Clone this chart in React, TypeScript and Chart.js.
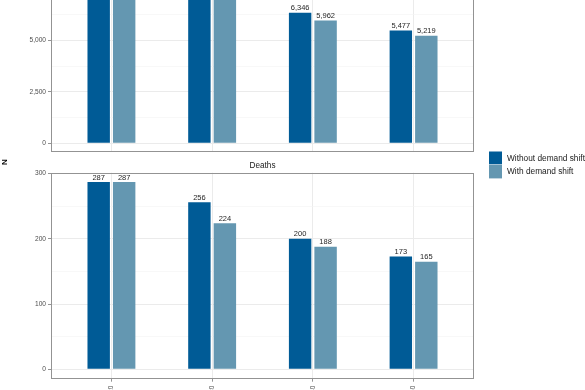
import React, { useEffect, useRef } from "react";
import { Chart, registerables } from "chart.js";

Chart.register(...registerables);

const categories = ["2020", "2030", "2040", "2050"];
const seriesNames = ["Without demand shift", "With demand shift"];
const seriesColors = ["#005b96", "#6497b1"];
const topWithout = [8700, 8100, 6346, 5477];
const topWith = [8700, 7600, 5962, 5219];
const deathsWithout = [287, 256, 200, 173];
const deathsWith = [287, 224, 188, 165];
const topTicks = [0, 1250, 2500, 3750, 5000, 6250, 7500, 8750];
const topMajor = [0, 2500, 5000, 7500];
const deathTicks = [0, 50, 100, 150, 200, 250, 300];
const deathMajor = [0, 100, 200, 300];
const deathsTitle = "Deaths";
const yAxisTitle = "N";

const FONT = "'Liberation Sans', Arial, Helvetica, sans-serif";
const fmt = (v: number) => v.toLocaleString("en-US");

const barLabelPlugin = {
  id: "barLabels",
  afterDatasetsDraw(chart: any) {
    const ctx = chart.ctx;
    ctx.save();
    ctx.font = `7.5px ${FONT}`;
    ctx.fillStyle = "#262626";
    ctx.textAlign = "center";
    ctx.textBaseline = "alphabetic";
    chart.data.datasets.forEach((ds: any, di: number) => {
      const meta = chart.getDatasetMeta(di);
      meta.data.forEach((el: any, i: number) => {
        const v = ds.data[i].y;
        ctx.fillText(fmt(v), el.x, el.y - 2.5);
      });
    });
    ctx.restore();
  },
};

const panelPlugin = {
  id: "panelDecor",
  afterDraw(chart: any, _args: any, opts: any) {
    const ctx = chart.ctx;
    const a = chart.chartArea;
    ctx.save();
    ctx.strokeStyle = "#939393";
    ctx.lineWidth = 1;
    const l = Math.round(a.left) + 0.5;
    const t = Math.round(a.top) + 0.5;
    const r = Math.round(a.right) - 0.5;
    const b = Math.round(a.bottom) - 0.5;
    ctx.strokeRect(l, t, r - l, b - t);
    if (opts.title) {
      ctx.font = `8.2px ${FONT}`;
      ctx.fillStyle = "#1a1a1a";
      ctx.textAlign = "center";
      ctx.textBaseline = "alphabetic";
      ctx.fillText(opts.title, (a.left + a.right) / 2, a.top - 5);
    }
    if (opts.legend) {
      const rows = [
        [151.5, 164.3],
        [164.8, 178.4],
      ];
      chart.data.datasets.forEach((ds: any, i: number) => {
        const y0 = rows[i][0] - opts.offsetY;
        const y1 = rows[i][1] - opts.offsetY;
        ctx.fillStyle = ds.backgroundColor;
        ctx.fillRect(489, y0, 13, y1 - y0);
        ctx.font = `8.3px ${FONT}`;
        ctx.fillStyle = "#1a1a1a";
        ctx.textAlign = "left";
        ctx.textBaseline = "middle";
        ctx.fillText(ds.label, 507, (y0 + y1) / 2 + 0.5);
      });
    }
    if (opts.yTitle) {
      ctx.translate(4.6, 162 - opts.offsetY);
      ctx.rotate(-Math.PI / 2);
      ctx.font = `bold 8px ${FONT}`;
      ctx.fillStyle = "#000";
      ctx.textAlign = "center";
      ctx.textBaseline = "middle";
      ctx.fillText(opts.yTitle, 0, 0);
    }
    ctx.restore();
  },
};

function makeConfig(p: {
  a: number[];
  b: number[];
  min: number;
  max: number;
  ticks: number[];
  major: number[];
  showX: boolean;
  xHeight: number;
  padTop: number;
  padBottom: number;
  title?: string;
  legend?: boolean;
  yTitle?: string;
  offsetY: number;
}): any {
  const mk = (vals: number[]) => vals.map((v, i) => ({ x: i + 1, y: v }));
  return {
    type: "bar",
    data: {
      datasets: [
        {
          label: seriesNames[0],
          data: mk(p.a),
          backgroundColor: seriesColors[0],
          borderWidth: 0,
          categoryPercentage: 0.506,
          barPercentage: 0.88,
        },
        {
          label: seriesNames[1],
          data: mk(p.b),
          backgroundColor: seriesColors[1],
          borderWidth: 0,
          categoryPercentage: 0.506,
          barPercentage: 0.88,
        },
      ],
    },
    options: {
      responsive: false,
      animation: false,
      devicePixelRatio: 1,
      layout: { padding: { left: 0, right: 111, top: p.padTop, bottom: p.padBottom } },
      plugins: {
        legend: { display: false },
        tooltip: { enabled: false },
        panelDecor: {
          title: p.title,
          legend: p.legend,
          yTitle: p.yTitle,
          offsetY: p.offsetY,
        },
      },
      scales: {
        x: {
          type: "linear",
          min: 0.4,
          max: 4.6,
          offset: false,
          bounds: "data",
          afterDataLimits: (s: any) => {
            s.min = 0.4;
            s.max = 4.6;
          },
          afterBuildTicks: (s: any) => {
            s.ticks = categories.map((_, i) => ({ value: i + 1 }));
            s.min = 0.4;
            s.max = 4.6;
          },
          afterFit: (s: any) => {
            s.height = p.xHeight;
            s.paddingLeft = 0;
            s.paddingRight = 0;
          },
          ticks: {
            display: p.showX,
            autoSkip: false,
            includeBounds: false,
            minRotation: 90,
            maxRotation: 90,
            padding: 4,
            color: "#4d4d4d",
            font: { size: 6.5, family: FONT },
            callback: (v: any) => categories[Math.round(v) - 1] ?? "",
          },
          grid: {
            color: "#ebebeb",
            lineWidth: 1,
            drawTicks: p.showX,
            tickLength: 3,
            tickColor: "#939393",
            tickWidth: 1,
            offset: false,
          },
          border: { display: false },
        },
        y: {
          min: p.min,
          max: p.max,
          afterBuildTicks: (s: any) => {
            s.ticks = p.ticks.map((v) => ({ value: v }));
          },
          afterFit: (s: any) => {
            s.width = 51;
            s.paddingTop = 0;
            s.paddingBottom = 0;
          },
          ticks: {
            padding: 2,
            color: "#4d4d4d",
            font: { size: 6.6, family: FONT },
            callback: (v: any) => (p.major.includes(v) ? fmt(v) : ""),
          },
          grid: {
            color: (c: any) => (p.major.includes(c.tick?.value) ? "#ebebeb" : "#f3f3f3"),
            lineWidth: (c: any) => (p.major.includes(c.tick?.value) ? 1 : 0.6),
            tickLength: 3,
            tickWidth: 1,
            tickColor: (c: any) =>
              p.major.includes(c.tick?.value) ? "#939393" : "rgba(0,0,0,0)",
          },
          border: { display: false },
        },
      },
    },
    plugins: [barLabelPlugin, panelPlugin],
  };
}

export default function App() {
  const topRef = useRef<HTMLCanvasElement>(null);
  const botRef = useRef<HTMLCanvasElement>(null);

  useEffect(() => {
    const top = new Chart(
      topRef.current as HTMLCanvasElement,
      makeConfig({
        a: topWithout,
        b: topWith,
        min: -435,
        max: 9135,
        ticks: topTicks,
        major: topMajor,
        showX: false,
        xHeight: 0,
        padTop: 25.2,
        padBottom: 1.7,
        offsetY: -70,
      })
    );
    const bot = new Chart(
      botRef.current as HTMLCanvasElement,
      makeConfig({
        a: deathsWithout,
        b: deathsWith,
        min: -14.35,
        max: 301.35,
        ticks: deathTicks,
        major: deathMajor,
        showX: true,
        xHeight: 40,
        padTop: 22.7,
        padBottom: 0.3,
        title: deathsTitle,
        legend: true,
        yTitle: yAxisTitle,
        offsetY: 150,
      })
    );
    return () => {
      top.destroy();
      bot.destroy();
    };
  }, []);

  return (
    <div
      style={{
        position: "fixed",
        left: 0,
        top: 0,
        width: 585,
        height: 390,
        overflow: "hidden",
        background: "#fff",
      }}
    >
      <canvas
        ref={topRef}
        width={585}
        height={224}
        style={{ position: "absolute", left: 0, top: -70, width: 585, height: 224 }}
      />
      <canvas
        ref={botRef}
        width={585}
        height={269}
        style={{ position: "absolute", left: 0, top: 150, width: 585, height: 269 }}
      />
    </div>
  );
}
